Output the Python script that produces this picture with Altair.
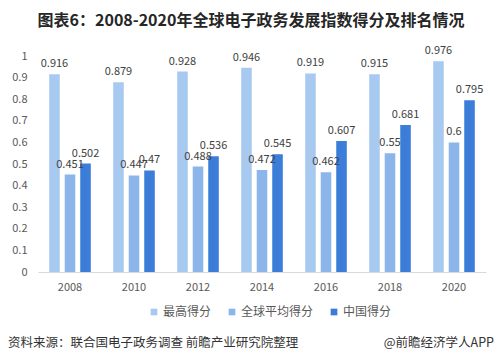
import altair as alt
import pandas as pd

years = ["2008", "2010", "2012", "2014", "2016", "2018", "2020"]
max_score = [0.916, 0.879, 0.928, 0.946, 0.919, 0.915, 0.976]
avg_score = [0.451, 0.447, 0.488, 0.472, 0.462, 0.55, 0.6]
china_score = [0.502, 0.47, 0.536, 0.545, 0.607, 0.681, 0.795]
series = ["最高得分", "全球平均得分", "中国得分"]
colors = ["#a8c9f0", "#8cb5ea", "#3b7dd8"]
y_ticks = [0, 0.1, 0.2, 0.3, 0.4, 0.5, 0.6, 0.7, 0.8, 0.9, 1]

title_text = "图表6：2008-2020年全球电子政务发展指数得分及排名情况"
source_text = "资料来源：联合国电子政务调查 前瞻产业研究院整理"
brand_text = "@前瞻经济学人APP"

rows = []
for s, vals in zip(series, [max_score, avg_score, china_score]):
    for yr, v in zip(years, vals):
        rows.append({"year": yr, "series": s, "value": v})
df = pd.DataFrame(rows)

FONT = "Noto Sans CJK SC"

x = alt.X(
    "year:N", sort=years, title=None,
    scale=alt.Scale(paddingInner=0.35, paddingOuter=0.175),
    axis=alt.Axis(labelAngle=0, ticks=False, domainColor="#d9d9d9",
                  labelColor="#595959", labelFontSize=11, labelPadding=9,
                  labelFont=FONT),
)
xo = alt.XOffset("series:N", sort=series,
                 scale=alt.Scale(paddingInner=0.32, paddingOuter=0))
y = alt.Y(
    "value:Q", title=None,
    scale=alt.Scale(domain=[0, 1], nice=False),
    axis=alt.Axis(values=y_ticks, format=".1~f", grid=False, domain=False,
                  ticks=False, labelPadding=11, labelColor="#595959",
                  labelFontSize=11, labelFont=FONT),
)
color = alt.Color(
    "series:N", sort=series,
    scale=alt.Scale(domain=series, range=colors),
    legend=alt.Legend(orient="none", legendX=110, legendY=250,
                      direction="horizontal", title=None,
                      symbolType="square", symbolSize=45,
                      labelFontSize=12, labelColor="#595959", labelFont=FONT,
                      columnPadding=14, labelOffset=3),
)

base = alt.Chart(df)
bars = base.mark_bar().encode(x=x, xOffset=xo, y=y, color=color)
labels = base.mark_text(baseline="bottom", dy=-5, fontSize=11,
                        color="#404040", font=FONT).encode(
    x=x, xOffset=xo, y=y, text=alt.Text("value:Q", format="~g"))

src = alt.Chart(pd.DataFrame({"t": [source_text]})).mark_text(
    align="left", baseline="middle", fontSize=12.5, color="#333333", font=FONT
).encode(text="t:N", x=alt.value(-30), y=alt.value(287))
brand = alt.Chart(pd.DataFrame({"t": [brand_text]})).mark_text(
    align="right", baseline="middle", fontSize=12.5, color="#333333", font=FONT
).encode(text="t:N", x=alt.value(456), y=alt.value(287))

chart = alt.layer(bars, labels, src, brand).properties(
    width=448, height=216,
    title=alt.TitleParams(title_text, fontSize=16, font=FONT,
                          fontWeight="bold", color="#262626",
                          anchor="middle", dx=-11, offset=16),
    autosize=alt.AutoSizeParams(type="none"),
    padding={"left": 30, "top": 48, "right": 9, "bottom": 83},
    background="white",
).configure_view(stroke=None)

chart.save("out.html", embed_options={"renderer": "svg", "actions": False})
